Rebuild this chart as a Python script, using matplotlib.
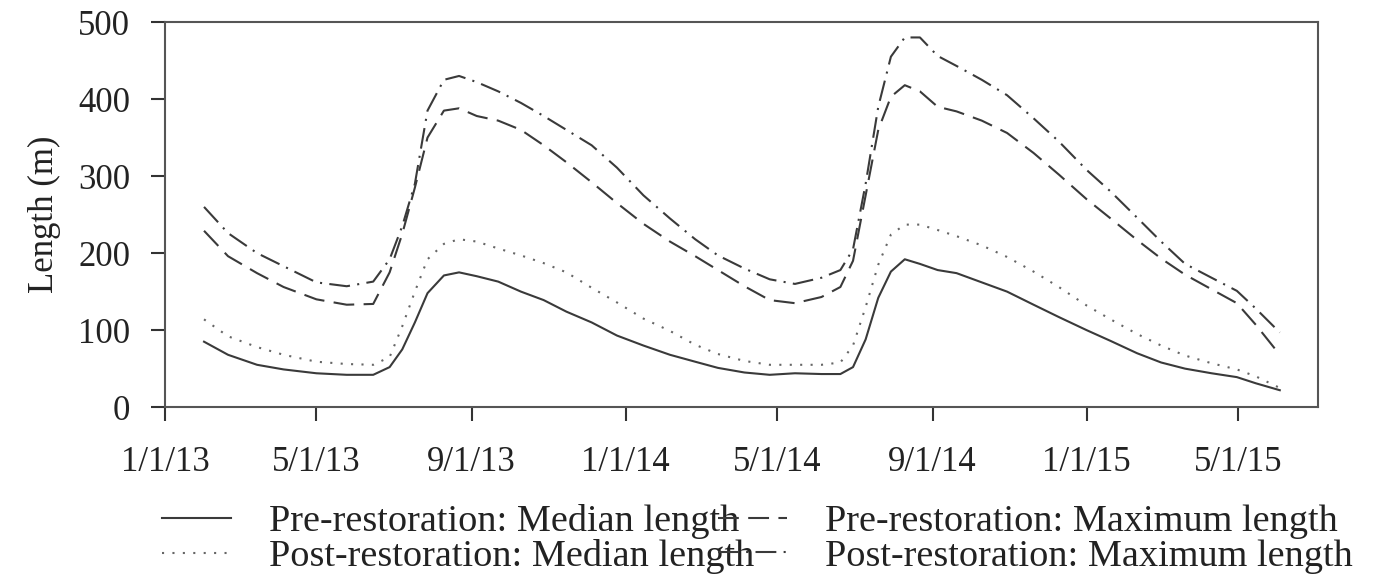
import matplotlib
matplotlib.use("Agg")
import matplotlib.pyplot as plt
import matplotlib.dates as mdates
from matplotlib.ticker import FuncFormatter
import pandas as pd

dates = ["2013-02-01", "2013-02-20", "2013-03-15", "2013-04-05", "2013-05-01", "2013-05-25",
         "2013-06-15", "2013-06-28", "2013-07-08", "2013-07-18", "2013-07-28", "2013-08-10",
         "2013-08-22", "2013-09-05", "2013-09-22", "2013-10-10", "2013-10-28", "2013-11-15",
         "2013-12-05", "2013-12-25", "2014-01-15", "2014-02-05", "2014-02-25", "2014-03-15",
         "2014-04-05", "2014-04-25", "2014-05-15", "2014-06-05", "2014-06-20", "2014-06-30",
         "2014-07-10", "2014-07-20", "2014-07-30", "2014-08-10", "2014-08-22", "2014-09-05",
         "2014-09-20", "2014-10-10", "2014-10-30", "2014-11-20", "2014-12-10", "2015-01-01",
         "2015-01-20", "2015-02-10", "2015-03-01", "2015-03-20", "2015-04-10", "2015-04-30",
         "2015-05-15", "2015-06-03"]

pre_median = [85, 68, 55, 49, 44, 42, 42, 52, 75, 110, 148, 171, 175, 170, 163, 150, 139, 124,
              110, 93, 80, 68, 59, 51, 45, 42, 44, 43, 43, 52, 88, 142, 176, 192, 186, 178,
              174, 162, 150, 133, 117, 100, 86, 70, 58, 50, 44, 39, 31, 22]
post_median = [114, 92, 78, 68, 59, 56, 55, 65, 105, 150, 192, 212, 218, 215, 206, 197, 187, 175,
               155, 136, 115, 99, 81, 69, 60, 55, 55, 55, 58, 80, 130, 185, 224, 237, 237, 230,
               222, 210, 195, 176, 156, 132, 114, 95, 80, 67, 57, 49, 40, 25]
pre_max = [229, 196, 174, 156, 140, 133, 134, 175, 225, 285, 350, 385, 388, 378, 372, 360, 340, 318,
           292, 265, 238, 215, 196, 178, 157, 139, 135, 143, 156, 190, 275, 360, 403, 418, 410, 390,
           384, 372, 356, 330, 302, 270, 245, 217, 193, 172, 153, 135, 107, 68]
post_max = [260, 226, 200, 183, 162, 157, 163, 192, 235, 290, 385, 425, 430, 422, 410, 395, 378, 360,
            340, 311, 275, 245, 218, 197, 180, 166, 160, 168, 178, 205, 290, 390, 455, 480, 480, 456,
            443, 425, 405, 375, 345, 308, 280, 246, 215, 186, 168, 151, 128, 97]

labels = ["Pre-restoration: Median length", "Post-restoration: Median length",
          "Pre-restoration: Maximum length", "Post-restoration: Maximum length"]

plt.rcParams['font.family'] = ['Liberation Serif', 'DejaVu Serif']

x = pd.to_datetime(dates)
col = '#3a3a3a'

fig = plt.figure(figsize=(13.74, 5.8), dpi=100)
ax = fig.add_axes([0.120, 0.298, 0.839, 0.664])

l1, = ax.plot(x, pre_median, color=col, lw=1.5, linestyle='-')
l2, = ax.plot(x, pre_max, color=col, lw=1.5, linestyle=(0, (10, 4.5)))
l3, = ax.plot(x, post_median, color='#666666', lw=1.5, linestyle=(0, (1, 4)))
l4, = ax.plot(x, post_max, color=col, lw=1.5, linestyle=(0, (10, 3.5, 1, 3.5)))

ax.set_xlim(pd.Timestamp("2013-01-01"), pd.Timestamp("2015-07-03"))
ax.set_ylim(0, 500)
ax.set_yticks([0, 100, 200, 300, 400, 500])
ax.xaxis.set_major_locator(mdates.MonthLocator(bymonth=[1, 5, 9]))
ax.xaxis.set_major_formatter(FuncFormatter(
    lambda v, pos: (lambda d: f"{d.month}/{d.day}/{d.year % 100}")(mdates.num2date(v))))

ax.tick_params(axis='both', direction='out', length=10, width=1.5, colors='#333333',
               labelsize=25, labelcolor='#222222')
ax.tick_params(axis='x', pad=18)
ax.tick_params(axis='y', pad=15)
for s in ax.spines.values():
    s.set_color('#555555')
    s.set_linewidth(1.5)

ax.set_ylabel('Length (m)', fontsize=25, color='#222222', labelpad=12)

fig.legend([l1, l3, l2, l4], labels, ncol=2, loc='upper left',
           bbox_to_anchor=(0.118, 0.131), frameon=False, fontsize=27.5,
           handlelength=1.8, handletextpad=1.0, columnspacing=-0.95,
           labelspacing=0.0, borderpad=0, borderaxespad=0,
           labelcolor='#222222')

fig.savefig('out.png', dpi=100)
